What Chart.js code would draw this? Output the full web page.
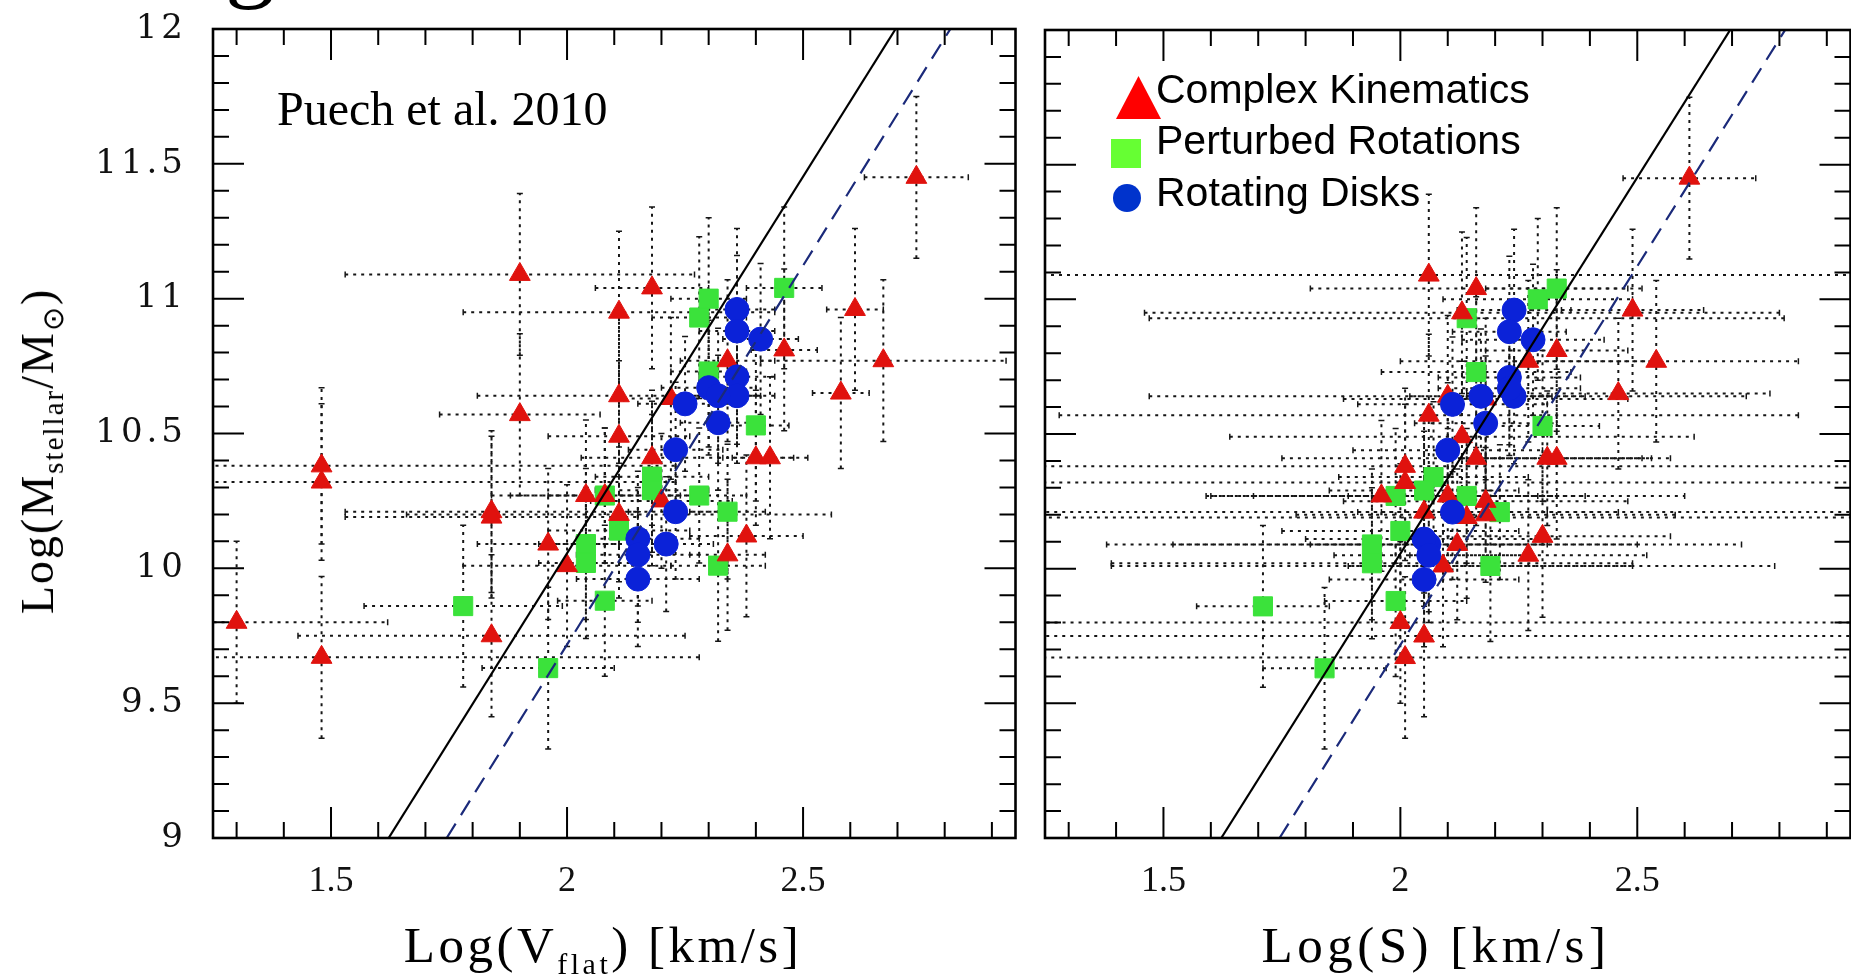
<!DOCTYPE html>
<html>
<head>
<meta charset="utf-8">
<script src="https://cdn.jsdelivr.net/npm/chart.js@4.4.1/dist/chart.umd.min.js"></script>
<style>
html,body{margin:0;padding:0;background:#fff;overflow:hidden;width:1851px;height:977px;}
#wrap{position:relative;width:1851px;height:977px;overflow:hidden;background:#fff;}
canvas{position:absolute;top:0;display:block;}
.txt{position:absolute;white-space:nowrap;color:#000;line-height:1;}
.serif{font-family:"Liberation Serif","Times New Roman",serif;}
.sans{font-family:"Liberation Sans",Arial,sans-serif;}
</style>
</head>
<body>
<div id="wrap">
  <canvas id="leftPanel" width="1030" height="977" style="left:0px"></canvas>
  <canvas id="rightPanel" width="835" height="977" style="left:1030px"></canvas>

  <div class="txt serif" style="left:225px;top:-94px;font-size:100px;">g</div>
  <div class="txt serif" style="left:277px;top:85px;font-size:48px;">Puech et al. 2010</div>

  <div class="txt serif" style="left:603px;top:920px;font-size:51px;letter-spacing:3.5px;transform:translateX(-50%);">Log(V<span style="font-size:30px;position:relative;top:12px;">flat</span>)&nbsp;[km/s]</div>
  <div class="txt serif" style="left:1436px;top:920px;font-size:51px;letter-spacing:4.5px;transform:translateX(-50%);">Log(S)&nbsp;[km/s]</div>
  <div class="txt serif" style="left:38px;top:451px;font-size:46px;letter-spacing:2px;transform:translate(-50%,-50%) rotate(-90deg);">Log(M<span style="font-size:29px;position:relative;top:10px;">stellar</span>/M<span style="font-size:29px;position:relative;top:10px;">⊙</span>)</div>

  <div style="position:absolute;left:1116px;top:76px;width:45px;height:43px;background:#ff0000;clip-path:polygon(50% 0,100% 100%,0 100%);"></div>
  <div style="position:absolute;left:1111px;top:139px;width:30px;height:29px;background:#66ff33;"></div>
  <div style="position:absolute;left:1113px;top:184px;width:28px;height:28px;border-radius:50%;background:#0033cc;"></div>
  <div class="txt sans" style="left:1156px;top:69px;font-size:41px;">Complex Kinematics</div>
  <div class="txt sans" style="left:1156px;top:120px;font-size:41px;">Perturbed Rotations</div>
  <div class="txt sans" style="left:1156px;top:172px;font-size:41px;">Rotating Disks</div>
</div>

<script>
// ---------- axis ticks ----------
const xTickValues = [1.5, 2, 2.5];
const xTickLabels = ['1.5', '2', '2.5'];
const yTickValues = [9, 9.5, 10, 10.5, 11, 11.5, 12];
const yTickLabels = ['9', '9.5', '10', '10.5', '11', '11.5', '12'];
const xMinorTicks = [1.3, 1.4, 1.6, 1.7, 1.8, 1.9, 2.1, 2.2, 2.3, 2.4, 2.6, 2.7, 2.8, 2.9];
const yMinorTicks = [9.1, 9.2, 9.3, 9.4, 9.6, 9.7, 9.8, 9.9, 10.1, 10.2, 10.3, 10.4, 10.6, 10.7, 10.8, 10.9, 11.1, 11.2, 11.3, 11.4, 11.6, 11.7, 11.8, 11.9];

// ---------- Complex Kinematics (red triangles) ----------
const ckMass = [9.80, 9.67, 10.38, 10.32, 10.21, 10.19, 9.75, 11.09, 10.57, 10.09, 10.01, 10.27, 10.27, 10.20, 10.95, 10.64, 10.49, 11.04, 10.41, 10.25, 10.63, 10.77, 10.05, 10.12, 10.41, 10.41, 10.81, 10.65, 10.96, 10.77, 11.45];
const ckLogV = [1.30, 1.48, 1.48, 1.48, 1.84, 1.84, 1.84, 1.90, 1.90, 1.96, 2.00, 2.04, 2.08, 2.11, 2.11, 2.11, 2.11, 2.18, 2.18, 2.20, 2.22, 2.34, 2.34, 2.38, 2.40, 2.43, 2.46, 2.58, 2.61, 2.67, 2.74];
const ckLogS = [2.00, 2.01, 2.01, 2.01, 2.05, 2.14, 2.05, 2.06, 2.06, 2.12, 2.09, 1.96, 2.10, 2.18, 2.13, 2.10, 2.13, 2.16, 2.16, 2.18, 2.18, 2.27, 2.27, 2.30, 2.31, 2.33, 2.33, 2.46, 2.49, 2.54, 2.61];
const ckErrV = [0.32, 0.80, 0.75, 0.75, 0.31, 0.31, 0.41, 0.37, 0.17, 0.15, 0.22, 0.20, 0.20, 0.45, 0.33, 0.30, 0.15, 0.12, 0.15, 0.15, 0.10, 0.10, 0.08, 0.12, 0.08, 0.08, 0.07, 0.06, 0.06, 0.26, 0.11];
const ckErrS = [1.00, 1.00, 1.00, 1.00, 1.00, 1.00, 1.00, 1.00, 0.78, 0.60, 0.70, 0.37, 0.50, 0.40, 0.67, 0.63, 0.49, 0.35, 0.41, 0.30, 0.30, 0.27, 0.25, 0.27, 0.20, 0.20, 0.15, 0.32, 0.15, 0.30, 0.14];
const ckErrM = [0.30, 0.30, 0.29, 0.29, 0.30, 0.30, 0.30, 0.30, 0.30, 0.28, 0.30, 0.28, 0.25, 0.25, 0.30, 0.30, 0.28, 0.30, 0.25, 0.25, 0.30, 0.30, 0.28, 0.30, 0.25, 0.30, 0.30, 0.28, 0.30, 0.30, 0.30];

// ---------- Perturbed Rotations (green squares) ----------
const prMass = [9.86, 9.63, 10.09, 10.02, 10.27, 9.88, 10.14, 10.34, 10.29, 10.27, 10.93, 11.00, 10.73, 10.01, 10.21, 10.53, 11.04];
const prLogV = [1.78, 1.96, 2.04, 2.04, 2.08, 2.08, 2.11, 2.18, 2.18, 2.28, 2.28, 2.30, 2.30, 2.32, 2.34, 2.40, 2.46];
const prLogS = [1.71, 1.84, 1.94, 1.94, 1.99, 1.99, 2.00, 2.07, 2.05, 2.14, 2.14, 2.29, 2.16, 2.19, 2.21, 2.30, 2.33];
const prErrV = [0.21, 0.14, 0.10, 0.10, 0.12, 0.10, 0.15, 0.12, 0.12, 0.10, 0.10, 0.08, 0.08, 0.10, 0.08, 0.07, 0.08];
const prErrS = [0.14, 0.13, 0.56, 0.55, 0.30, 0.15, 0.25, 0.20, 0.20, 0.25, 0.67, 0.20, 0.20, 0.30, 0.25, 0.12, 0.15];
const prErrM = [0.30, 0.30, 0.28, 0.28, 0.25, 0.28, 0.25, 0.28, 0.28, 0.25, 0.30, 0.30, 0.28, 0.28, 0.25, 0.28, 0.30];

// ---------- Rotating Disks (blue circles) ----------
const rdMass = [10.96, 10.88, 10.85, 10.71, 10.64, 10.67, 10.64, 10.61, 10.54, 10.44, 10.21, 10.09, 10.11, 10.05, 9.96];
const rdLogV = [2.36, 2.36, 2.41, 2.36, 2.36, 2.30, 2.32, 2.25, 2.32, 2.23, 2.23, 2.21, 2.15, 2.15, 2.15];
const rdLogS = [2.24, 2.23, 2.28, 2.23, 2.24, 2.23, 2.17, 2.11, 2.18, 2.10, 2.11, 2.06, 2.05, 2.06, 2.05];
const rdErrV = [0.08, 0.08, 0.08, 0.08, 0.08, 0.10, 0.08, 0.10, 0.08, 0.10, 0.10, 0.10, 0.13, 0.13, 0.13];
const rdErrS = [0.12, 0.12, 0.15, 0.15, 0.15, 0.15, 0.15, 0.20, 0.15, 0.20, 0.20, 0.25, 0.25, 0.20, 0.20];
const rdErrM = [0.30, 0.28, 0.28, 0.25, 0.25, 0.25, 0.25, 0.25, 0.25, 0.25, 0.25, 0.25, 0.25, 0.25, 0.25];

// ---------- relations (lines) ----------
const fitY = [9, 12];
const solidFitX = [1.622, 2.696];
const dashedFitX = [1.745, 2.812];

const RED = '#e0120e', GREEN = '#3be23b', BLUE = '#0b22d8';

function pts(xs, ys) { return ys.map((v, i) => ({ x: xs[i], y: v })); }

const errorBarsPlugin = {
  id: 'errorBars',
  beforeDatasetsDraw(chart) {
    const { ctx, chartArea: a, scales: { x, y } } = chart;
    ctx.save();
    ctx.beginPath();
    ctx.rect(a.left, a.top, a.right - a.left, a.bottom - a.top);
    ctx.clip();
    chart.data.datasets.forEach(ds => {
      if (!ds.xErr) return;
      ds.data.forEach((p, i) => {
        const px = x.getPixelForValue(p.x), py = y.getPixelForValue(p.y);
        const x0 = x.getPixelForValue(p.x - ds.xErr[i]), x1 = x.getPixelForValue(p.x + ds.xErr[i]);
        const y0 = y.getPixelForValue(p.y - ds.yErr[i]), y1 = y.getPixelForValue(p.y + ds.yErr[i]);
        ctx.strokeStyle = '#161616';
        ctx.lineWidth = 2;
        ctx.setLineDash([3, 5]);
        ctx.beginPath();
        ctx.moveTo(x0, py); ctx.lineTo(x1, py);
        ctx.moveTo(px, y0); ctx.lineTo(px, y1);
        ctx.stroke();
        ctx.setLineDash([]);
        ctx.lineWidth = 1.5;
        ctx.beginPath();
        ctx.moveTo(x0, py - 3); ctx.lineTo(x0, py + 3);
        ctx.moveTo(x1, py - 3); ctx.lineTo(x1, py + 3);
        ctx.moveTo(px - 3, y0); ctx.lineTo(px + 3, y0);
        ctx.moveTo(px - 3, y1); ctx.lineTo(px + 3, y1);
        ctx.stroke();
      });
    });
    ctx.restore();
  }
};

const frameTicksPlugin = {
  id: 'frameTicks',
  afterDraw(chart) {
    const { ctx, chartArea: a, scales: { x, y } } = chart;
    ctx.save();
    ctx.strokeStyle = '#000';
    ctx.lineWidth = 2;
    ctx.beginPath();
    const major = 31, minor = 16;
    const xt = (v, len) => {
      const p = x.getPixelForValue(v);
      ctx.moveTo(p, a.bottom); ctx.lineTo(p, a.bottom - len);
      ctx.moveTo(p, a.top); ctx.lineTo(p, a.top + len);
    };
    const yt = (v, len) => {
      const p = y.getPixelForValue(v);
      ctx.moveTo(a.left, p); ctx.lineTo(a.left + len, p);
      ctx.moveTo(a.right, p); ctx.lineTo(a.right - len, p);
    };
    xTickValues.forEach(v => xt(v, major));
    xMinorTicks.forEach(v => xt(v, minor));
    yTickValues.forEach(v => yt(v, major));
    yMinorTicks.forEach(v => yt(v, minor));
    ctx.stroke();
    ctx.lineWidth = 2.6;
    ctx.strokeRect(a.left, a.top, a.right - a.left, a.bottom - a.top);
    ctx.restore();
  }
};

const ySpacingPlugin = {
  id: 'ySpacing',
  beforeDraw(chart) {
    const s = chart.scales.y;
    if (s && !s.__wrapped) {
      const orig = s.drawLabels;
      s.drawLabels = function (area) {
        const c = this.ctx;
        c.save();
        if ('letterSpacing' in c) c.letterSpacing = '4px';
        orig.call(this, area);
        c.restore();
      };
      s.__wrapped = true;
    }
  }
};

function makePanel(canvasId, useV, showY, padL, padT) {
  const datasets = [
    { label: 'Relation', data: pts(solidFitX, fitY), showLine: true, borderColor: '#000', borderWidth: 2.2, pointRadius: 0, fill: false, order: -2 },
    { label: 'Relation (dashed)', data: pts(dashedFitX, fitY), showLine: true, borderColor: '#1b2a7a', borderWidth: 2.2, borderDash: [17, 10], pointRadius: 0, fill: false, order: -1 },
    { label: 'Rotating Disks', data: pts(useV ? rdLogV : rdLogS, rdMass), pointStyle: 'circle', pointRadius: 12, backgroundColor: BLUE, borderColor: BLUE, borderWidth: 1, xErr: useV ? rdErrV : rdErrS, yErr: rdErrM, order: 0 },
    { label: 'Complex Kinematics', data: pts(useV ? ckLogV : ckLogS, ckMass), pointStyle: 'triangle', pointRadius: 12, backgroundColor: RED, borderColor: RED, borderWidth: 1, xErr: useV ? ckErrV : ckErrS, yErr: ckErrM, order: 1 },
    { label: 'Perturbed Rotations', data: pts(useV ? prLogV : prLogS, prMass), pointStyle: 'rect', pointRadius: 13.5, backgroundColor: GREEN, borderColor: GREEN, borderWidth: 1, xErr: useV ? prErrV : prErrS, yErr: prErrM, order: 2 }
  ];
  return new Chart(document.getElementById(canvasId), {
    type: 'scatter',
    data: { datasets },
    options: {
      responsive: false,
      animation: false,
      events: [],
      layout: { padding: { left: padL, right: 12, top: padT, bottom: 0 } },
      plugins: { legend: { display: false }, tooltip: { enabled: false } },
      scales: {
        x: {
          type: 'linear', min: 1.25, max: 2.95,
          afterBuildTicks: s => { s.ticks = xTickValues.map(v => ({ value: v })); },
          afterFit: s => { s.height = 139; s.paddingLeft = 0; s.paddingRight = 0; s.paddingTop = 0; s.paddingBottom = 0; },
          grid: { display: false, drawTicks: false },
          border: { display: false },
          ticks: {
            color: '#111', padding: 22, maxRotation: 0, autoSkip: false,
            font: { family: 'Liberation Serif', size: 36 },
            callback: (v, i) => xTickLabels[i]
          }
        },
        y: {
          type: 'linear', min: 9, max: 12, display: showY,
          afterBuildTicks: s => { s.ticks = yTickValues.map(v => ({ value: v })); },
          afterFit: s => { if (showY) s.width = 213; s.paddingTop = 0; s.paddingBottom = 0; s.paddingLeft = 0; s.paddingRight = 0; },
          grid: { display: false, drawTicks: false },
          border: { display: false },
          ticks: {
            color: '#111', padding: 26, autoSkip: false,
            font: { family: 'DejaVu Serif', size: 34 },
            callback: (v, i) => yTickLabels[i]
          }
        }
      }
    },
    plugins: [errorBarsPlugin, frameTicksPlugin, ySpacingPlugin]
  });
}

const leftChart = makePanel('leftPanel', true, true, 0, 29);
const rightChart = makePanel('rightPanel', false, false, 15, 30);
leftChart.draw();
rightChart.draw();
</script>
</body>
</html>
